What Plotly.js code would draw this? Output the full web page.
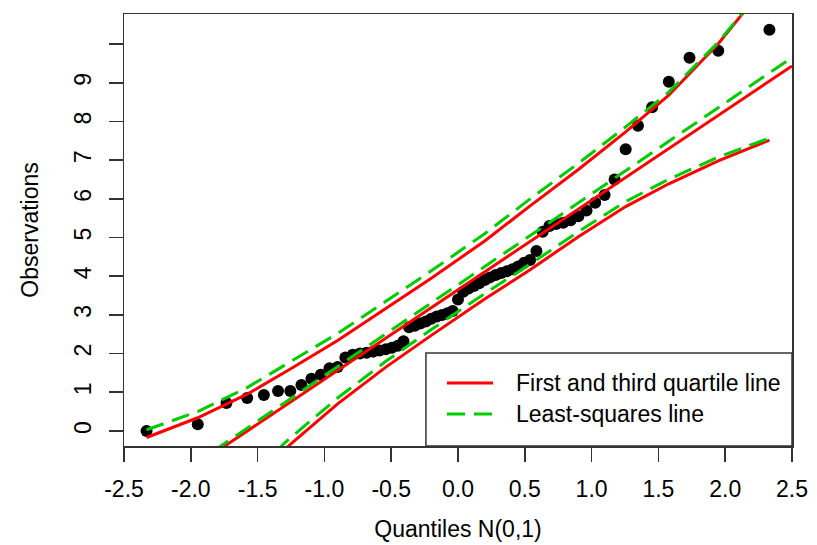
<!DOCTYPE html>
<html>
<head>
<meta charset="utf-8">
<script src="https://cdn.plot.ly/plotly-3.0.1.min.js"></script>
<style>html,body{margin:0;padding:0;background:#fff;}#chart{width:817px;height:545px;}</style>
</head>
<body>
<div id="chart"></div>
<script>
// Theoretical normal quantiles (x) of the 63 observations
const theoreticalQ = [-2.331,-1.948,-1.733,-1.578,-1.453,-1.347,-1.255,-1.172,-1.097,-1.027,
  -0.962,-0.901,-0.843,-0.788,-0.734,-0.684,-0.634,-0.587,-0.540,-0.495,
  -0.451,-0.408,-0.366,-0.323,-0.282,-0.240,-0.200,-0.159,-0.119,-0.079,
  -0.040,0.000,0.040,0.079,0.119,0.159,0.200,0.240,0.282,0.323,
  0.366,0.408,0.451,0.495,0.540,0.587,0.634,0.684,0.734,0.788,
  0.843,0.901,0.962,1.027,1.097,1.172,1.255,1.347,1.453,1.578,
  1.733,1.948,2.331];
// Sorted observations (y)
const observations = [0.00,0.17,0.72,0.85,0.93,1.03,1.03,1.19,1.35,1.45,
  1.62,1.65,1.90,1.97,2.00,2.02,2.05,2.08,2.11,2.15,
  2.20,2.32,2.68,2.72,2.78,2.83,2.90,2.96,3.00,3.04,
  3.10,3.40,3.60,3.68,3.75,3.82,3.90,3.97,4.03,4.08,
  4.13,4.18,4.25,4.35,4.42,4.65,5.15,5.30,5.35,5.38,
  5.45,5.55,5.70,5.90,6.10,6.50,7.28,7.89,8.37,9.03,
  9.65,9.83,10.37];

// Reference lines: [intercept, slope]
const quartileLine = [3.65, 2.315];
const lsLine = [3.78, 2.35];

// Confidence envelopes
const bandX = [-2.331,-1.948,-1.578,-1.255,-0.901,-0.540,-0.200,0.200,0.540,0.901,1.255,1.578,1.948,2.331];
const quartileUpper = [-0.17,0.34,0.95,1.60,2.34,3.16,3.95,4.91,5.82,6.76,7.73,8.68,10.01,11.65];
const quartileLower = [-4.3,-2.7,-1.38,-0.35,0.70,1.65,2.47,3.41,4.17,5.02,5.80,6.39,6.98,7.52];
const lsUpper = [0.03,0.50,1.12,1.78,2.52,3.35,4.14,5.10,6.00,6.92,7.86,8.76,10.05,11.65];
const lsLower = [-4.1,-2.5,-1.2,-0.18,0.85,1.80,2.62,3.55,4.31,5.15,5.93,6.51,7.08,7.57];

const xTicks = [-2.5,-2.0,-1.5,-1.0,-0.5,0.0,0.5,1.0,1.5,2.0,2.5];
const xTickText = ['-2.5','-2.0','-1.5','-1.0','-0.5','0.0','0.5','1.0','1.5','2.0','2.5'];
const yTicks = [0,1,2,3,4,5,6,7,8,9,10];
const yTickText = ['0','1','2','3','4','5','6','7','8','9',''];
const legendLabels = ['First and third quartile line','Least-squares line'];

const xRange = [-2.5, 2.5];
const yRange = [-0.39, 10.78];

const RED = '#FF0000', GREEN = '#00CD00';
const FONT = 'Liberation Sans, Arial, sans-serif';
const FS = 23;
const LW = 3;

function abline(p) { return xRange.map(x => p[0] + p[1]*x); }

const traces = [
  {x: theoreticalQ, y: observations, mode: 'markers', type: 'scatter',
   marker: {color: '#000', size: 12}, showlegend: false, hoverinfo: 'x+y'},
  {x: xRange, y: abline(quartileLine), mode: 'lines', line: {color: RED, width: LW}, showlegend: false},
  {x: bandX, y: quartileUpper, mode: 'lines', line: {color: RED, width: LW}, showlegend: false},
  {x: bandX, y: quartileLower, mode: 'lines', line: {color: RED, width: LW}, showlegend: false},
  {x: xRange, y: abline(lsLine), mode: 'lines', line: {color: GREEN, width: LW, dash: '18px,9px'}, showlegend: false},
  {x: bandX, y: lsUpper, mode: 'lines', line: {color: GREEN, width: LW, dash: '18px,9px'}, showlegend: false},
  {x: bandX, y: lsLower, mode: 'lines', line: {color: GREEN, width: LW, dash: '18px,9px'}, showlegend: false}
];

// legend box geometry (paper coords)
const lgX0 = 0.452, lgY1 = 0.215;
const lgLineX = [0.4835, 0.5524];
const lgRowY = [0.1458, 0.0741];
const lgTextX = 0.5838;

const layout = {
  width: 817, height: 545,
  margin: {l: 124, r: 25, t: 14, b: 99, pad: 0},
  paper_bgcolor: '#fff', plot_bgcolor: '#fff',
  font: {family: FONT, size: FS, color: '#000'},
  showlegend: false,
  xaxis: {
    range: xRange, tickvals: xTicks, ticktext: xTickText,
    ticks: 'outside', ticklen: 14, tickwidth: 1.5, tickcolor: '#333',
    ticklabelstandoff: 8,
    showline: true, mirror: true, linecolor: '#333', linewidth: 1.5,
    showgrid: false, zeroline: false,
    tickfont: {family: FONT, size: FS, color: '#000'},
    title: {text: 'Quantiles N(0,1)', font: {family: FONT, size: FS, color: '#000'}, standoff: 20}
  },
  yaxis: {
    range: yRange, tickvals: yTicks, ticktext: yTickText, tickangle: -90,
    ticks: 'outside', ticklen: 14, tickwidth: 1.5, tickcolor: '#333',
    ticklabelstandoff: 8,
    showline: true, mirror: true, linecolor: '#333', linewidth: 1.5,
    showgrid: false, zeroline: false,
    tickfont: {family: FONT, size: FS, color: '#000'},
    title: {text: 'Observations', font: {family: FONT, size: FS, color: '#000'}, standoff: 25}
  },
  shapes: [
    {type: 'rect', xref: 'paper', yref: 'paper', x0: lgX0, x1: 1, y0: 0, y1: lgY1,
     fillcolor: '#fff', line: {color: '#333', width: 1.5}, layer: 'above'},
    {type: 'line', xref: 'paper', yref: 'paper', x0: lgLineX[0], x1: lgLineX[1], y0: lgRowY[0], y1: lgRowY[0],
     line: {color: RED, width: LW}, layer: 'above'},
    {type: 'line', xref: 'paper', yref: 'paper', x0: lgLineX[0], x1: lgLineX[1], y0: lgRowY[1], y1: lgRowY[1],
     line: {color: GREEN, width: LW, dash: '18px,9px'}, layer: 'above'}
  ],
  annotations: legendLabels.map((t, i) => ({
    text: t, xref: 'paper', yref: 'paper', x: lgTextX, y: lgRowY[i],
    xanchor: 'left', yanchor: 'middle', showarrow: false,
    font: {family: FONT, size: FS, color: '#000'}
  }))
};

Plotly.newPlot('chart', traces, layout, {displayModeBar: false, staticPlot: true});
</script>
</body>
</html>
